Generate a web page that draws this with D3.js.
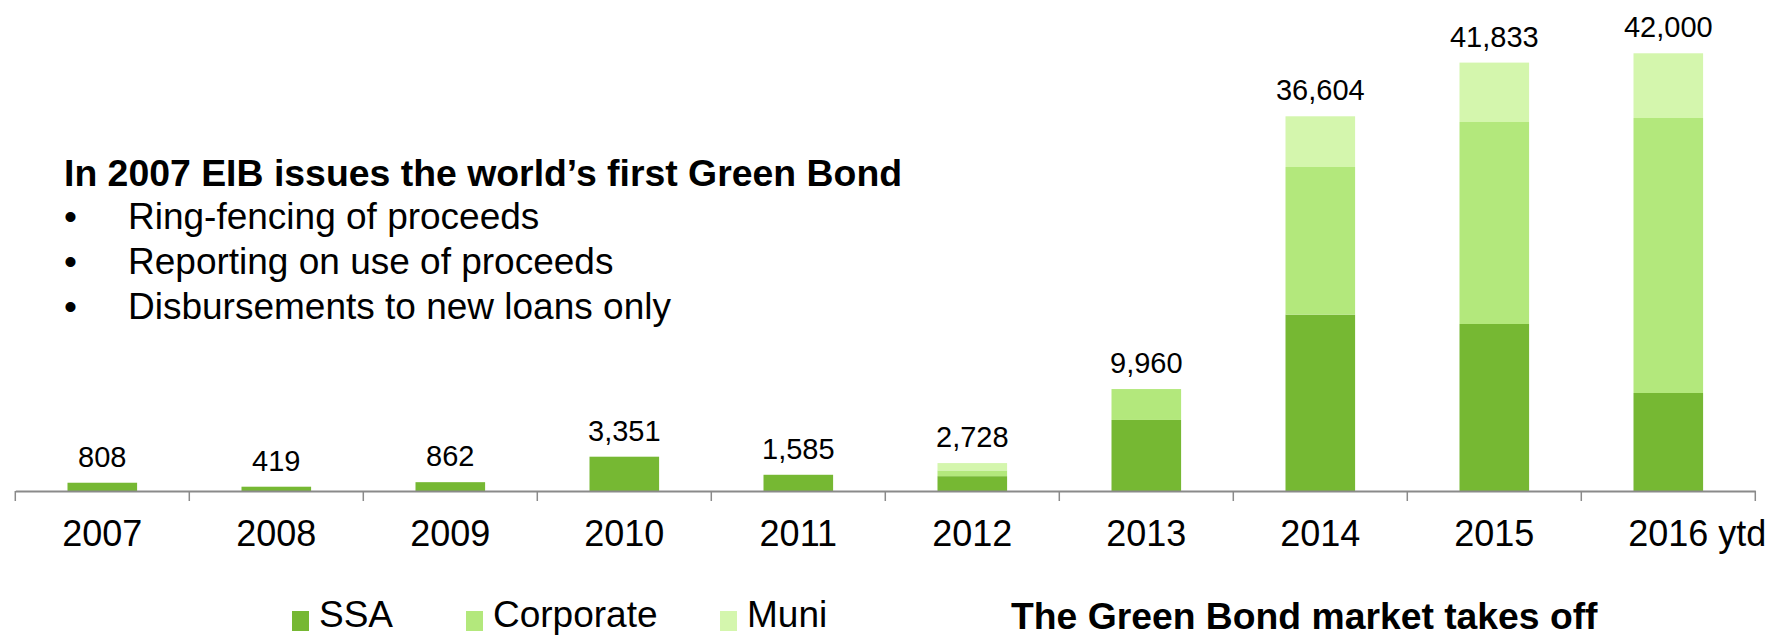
<!DOCTYPE html>
<html>
<head>
<meta charset="utf-8">
<script src="https://cdn.jsdelivr.net/npm/d3@7/dist/d3.min.js"></script>
<style>
  html, body { margin: 0; padding: 0; background: #fff; }
  svg { display: block; font-family: "Liberation Sans", Arial, sans-serif; }
</style>
</head>
<body>
<svg id="chart" width="1775" height="636"></svg>
<script>
const categories = ["2007", "2008", "2009", "2010", "2011", "2012", "2013", "2014", "2015", "2016 ytd"];
const ssa        = [808, 419, 862, 3351, 1585, 1450, 6940, 17234, 16316, 9575];
const corporate  = [0, 0, 0, 0, 0, 560, 3020, 14421, 19735, 26868];
const muni       = [0, 0, 0, 0, 0, 718, 0, 4953, 5803, 6321];
const totalLabels = ["808", "419", "862", "3,351", "1,585", "2,728", "9,960", "36,604", "41,833", "42,000"];
const seriesNames = ["SSA", "Corporate", "Muni"];
const seriesColors = ["#76b833", "#b3e87c", "#d4f6ad"];
const bulletTitle = "In 2007 EIB issues the world\u2019s first Green Bond";
const bullets = ["Ring-fencing of proceeds", "Reporting on use of proceeds", "Disbursements to new loans only"];
const chartTitle = "The Green Bond market takes off";

const svg = d3.select("#chart");
const baseY = 491;

const rows = categories.map((c, i) => ({ cat: c, SSA: ssa[i], Corporate: corporate[i], Muni: muni[i], label: totalLabels[i] }));

const x = d3.scaleBand().domain(categories).range([15.3, 1755.3]).paddingInner(0.6).paddingOuter(0.3);
const y = d3.scaleLinear().domain([0, 45000]).range([baseY, 30.4]);

const stacked = d3.stack().keys(seriesNames)(rows);
const color = d3.scaleOrdinal().domain(seriesNames).range(seriesColors);

// bars
svg.append("g").selectAll("g")
  .data(stacked)
  .join("g")
  .attr("fill", d => color(d.key))
  .selectAll("rect")
  .data(d => d)
  .join("rect")
  .attr("x", d => x(d.data.cat))
  .attr("width", x.bandwidth())
  .attr("y", d => y(d[1]))
  .attr("height", d => Math.max(0, y(d[0]) - y(d[1])));

// axis
const axis = d3.axisBottom(x).tickSize(0).tickSizeOuter(0).tickPadding(29);
const gAxis = svg.append("g").attr("transform", `translate(0,${baseY})`).call(axis);
gAxis.select(".domain").attr("stroke", "#8a8a8a").attr("stroke-width", 2);
gAxis.selectAll("text")
  .attr("font-size", 36)
  .attr("fill", "#000")
  .attr("font-family", "'Liberation Sans', Arial, sans-serif");
gAxis.selectAll(".tick text").each(function(d) {
  if (d.indexOf(" ") > 0) {
    const t = d3.select(this);
    const year = d.split(" ")[0];
    t.text(year);
    const w = this.getComputedTextLength();
    t.text(d).attr("text-anchor", "start").attr("x", -w / 2);
  }
});

// boundary ticks
const step = x.step();
const bounds = categories.map(c => x(c) + x.bandwidth() / 2 - step / 2);
bounds.push(x(categories[categories.length - 1]) + x.bandwidth() / 2 + step / 2);
svg.append("g").selectAll("line")
  .data(bounds)
  .join("line")
  .attr("x1", d => d).attr("x2", d => d)
  .attr("y1", baseY).attr("y2", baseY + 10)
  .attr("stroke", "#8a8a8a").attr("stroke-width", 1.5);

// total labels
svg.append("g").selectAll("text")
  .data(rows)
  .join("text")
  .attr("x", d => x(d.cat) + x.bandwidth() / 2)
  .attr("y", d => y(d.SSA + d.Corporate + d.Muni) - 16)
  .attr("text-anchor", "middle")
  .attr("font-size", 29)
  .attr("fill", "#000")
  .text(d => d.label);

// annotation block
const note = svg.append("g");
note.append("text")
  .attr("x", 64).attr("y", 186)
  .attr("font-size", 37.4).attr("font-weight", "bold").attr("fill", "#000")
  .text(bulletTitle);
bullets.forEach((b, i) => {
  const by = 229 + i * 45;
  note.append("text").attr("x", 64).attr("y", by).attr("font-size", 37).attr("fill", "#000").text("\u2022");
  note.append("text").attr("x", 128).attr("y", by).attr("font-size", 37).attr("fill", "#000").text(b);
});

// legend
const legendX = [292, 466, 720];
const lg = svg.append("g");
seriesNames.forEach((s, i) => {
  lg.append("rect").attr("x", legendX[i]).attr("y", 611).attr("width", 17).attr("height", 20).attr("fill", color(s));
  lg.append("text").attr("x", legendX[i] + 27).attr("y", 627).attr("font-size", 37).attr("fill", "#000").text(s);
});

// bottom title
svg.append("text")
  .attr("x", 1011).attr("y", 629)
  .attr("font-size", 37.3).attr("font-weight", "bold").attr("fill", "#000")
  .text(chartTitle);
</script>
</body>
</html>
